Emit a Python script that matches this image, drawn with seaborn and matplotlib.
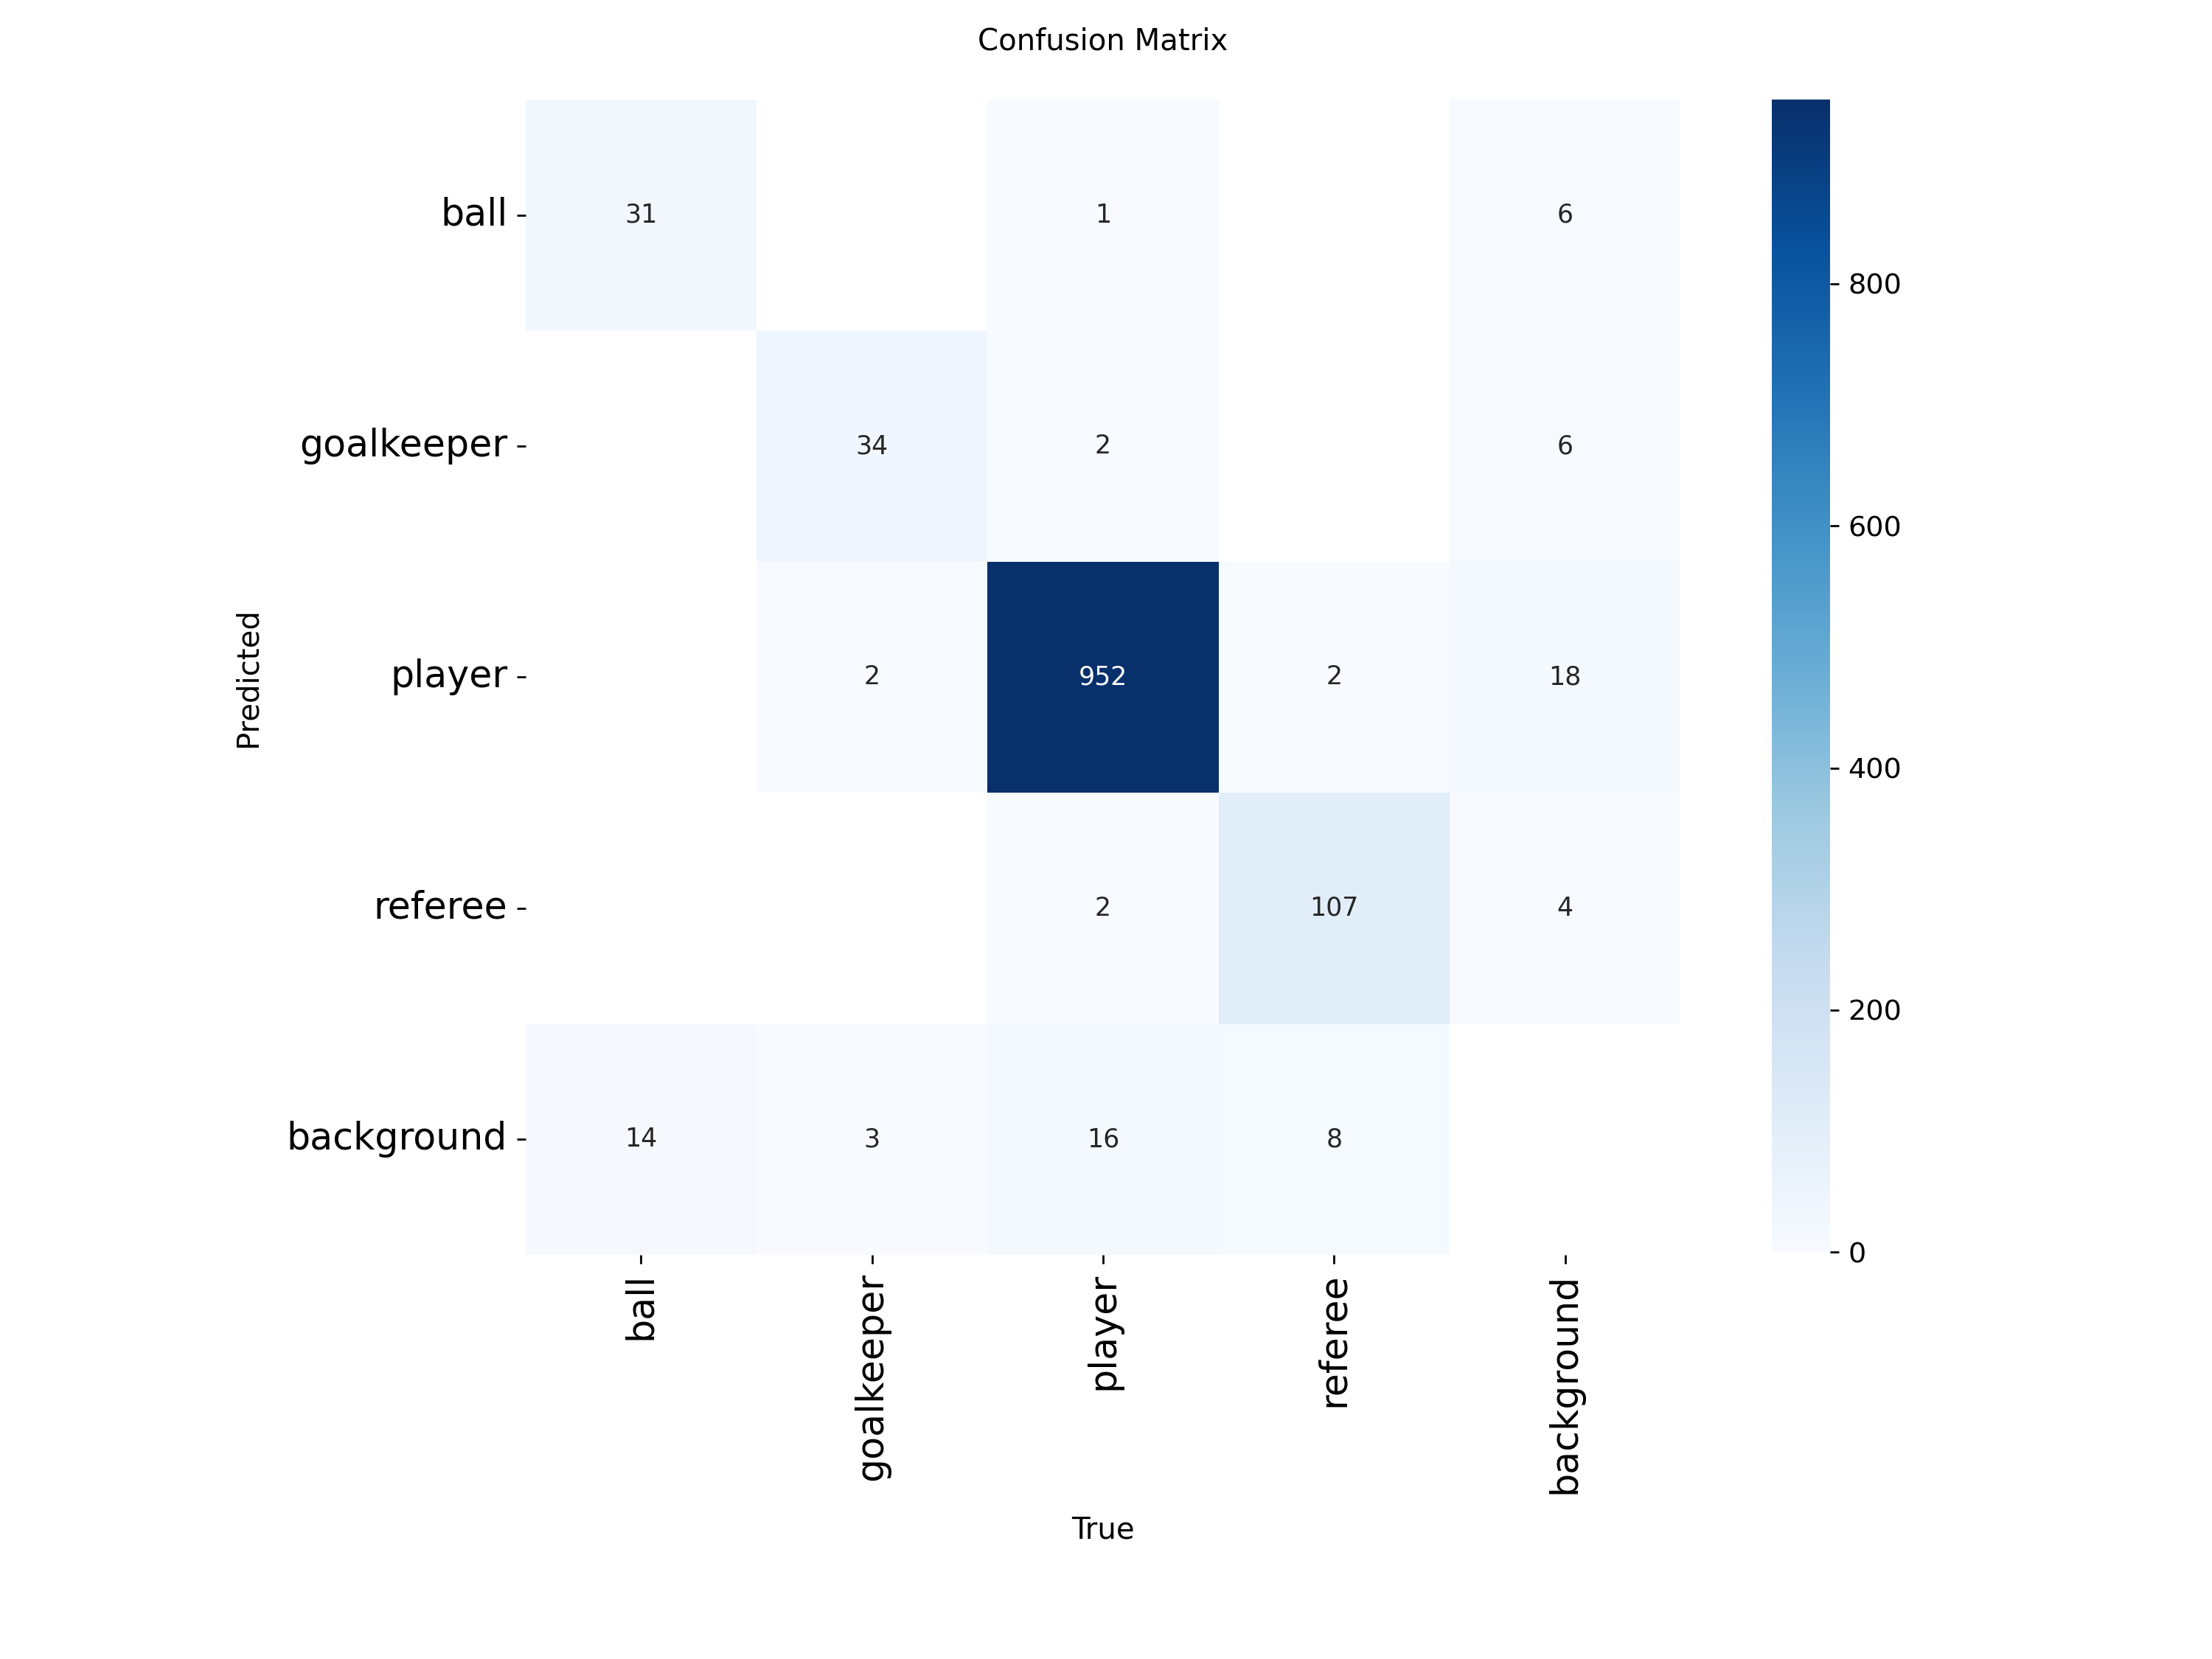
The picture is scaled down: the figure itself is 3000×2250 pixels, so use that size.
import numpy as np
import pandas as pd
import matplotlib
matplotlib.use("Agg")
import matplotlib.pyplot as plt
import seaborn as sns

# Data
class_names = ["ball", "goalkeeper", "player", "referee", "background"]
row_ball = [31, 0, 1, 0, 6]
row_goalkeeper = [0, 34, 2, 0, 6]
row_player = [0, 2, 952, 2, 18]
row_referee = [0, 0, 2, 107, 4]
row_background = [14, 3, 16, 8, 0]

matrix = np.array([row_ball, row_goalkeeper, row_player, row_referee, row_background], dtype=float)
matrix[matrix < 0.005] = np.nan
df = pd.DataFrame(matrix, index=class_names, columns=class_names)

plt.rcParams["font.family"] = ["DejaVu Sans"]
fig = plt.figure(figsize=(12, 9), dpi=250)
ax = fig.add_axes([0.2368, 0.2436, 0.5237, 0.6964])
cax = fig.add_axes([0.801, 0.2453, 0.0263, 0.6945])

sns.heatmap(df, ax=ax, cbar_ax=cax, annot=True, annot_kws={"size": 10},
            cmap="Blues", fmt=".0f", square=True, vmin=0.0,
            xticklabels=class_names, yticklabels=class_names)
ax.set_facecolor((1, 1, 1))

ax.set_xticklabels(class_names, rotation=90, fontsize=14.6)
ax.set_yticklabels(class_names, rotation=0, fontsize=14.6)
cax.tick_params(labelsize=11)

ax.set_xlabel("True", fontsize=11.6)
ax.set_ylabel("Predicted", fontsize=11.6)
ax.xaxis.set_label_coords(0.5, -0.2255)
ax.yaxis.set_label_coords(-0.2275, 0.5)
ax.set_title("Confusion Matrix", fontsize=11.6, pad=19.5)

fig.savefig("out.png", dpi=250)
